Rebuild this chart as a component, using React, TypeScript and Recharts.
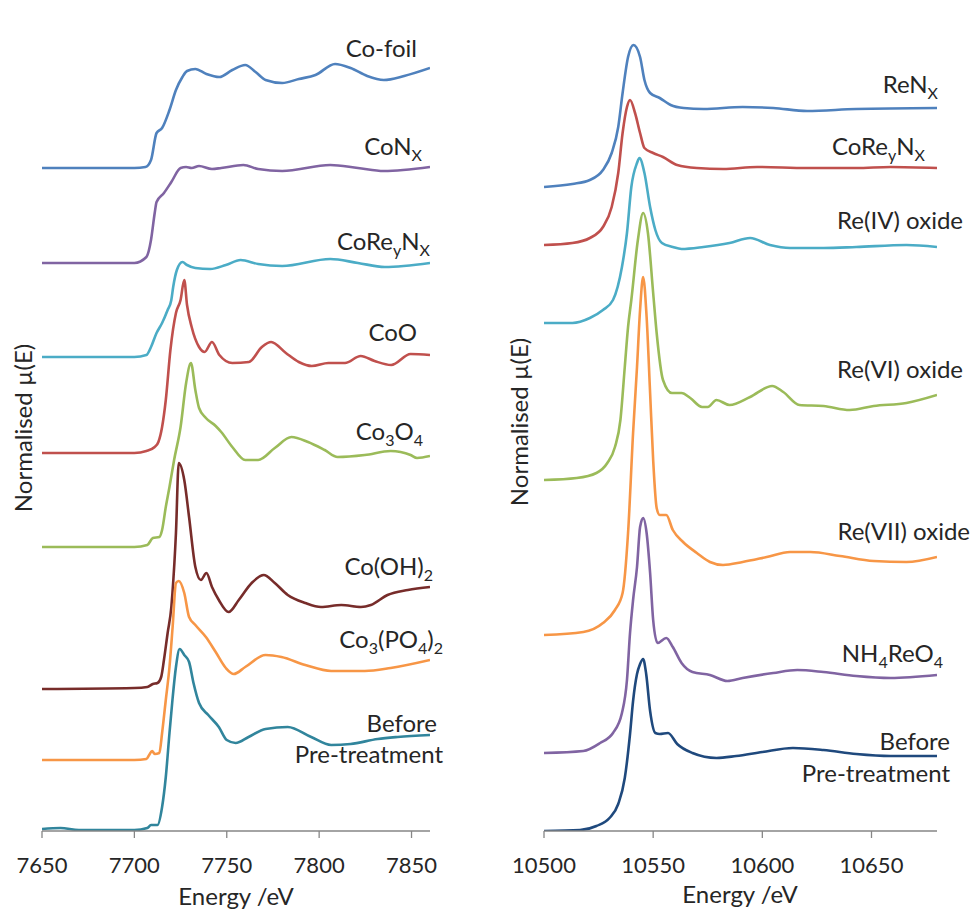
import React from 'react';
import { LineChart, Line, XAxis, YAxis } from 'recharts';

// ---------- tick labels ----------
const coTicks = [7650, 7700, 7750, 7800, 7850];
const reTicks = [10500, 10550, 10600, 10650];

// ---------- Co K-edge (left) : energy (eV), normalised mu(E), vertical offset ----------
const coFoilE = [7650, 7700, 7706, 7709, 7712, 7715, 7719, 7722.5, 7726, 7728.5, 7733, 7739, 7746, 7753, 7760, 7765.6, 7771, 7780, 7789, 7798, 7808.6, 7817, 7826, 7835, 7846, 7860];
const coFoilMu = [0, 0, 0.01, 0.08, 0.35, 0.4, 0.58, 0.78, 0.91, 0.97, 0.99, 0.94, 0.91, 0.98, 1.03, 0.96, 0.88, 0.85, 0.89, 0.93, 1.04, 1.0, 0.92, 0.88, 0.92, 1.0];
const coFoilOffset = 6.63;

const coNxE = [7650, 7700, 7706.5, 7709, 7711, 7712, 7716, 7720, 7725, 7728, 7731, 7735, 7742, 7747, 7759, 7767, 7780, 7806, 7821, 7835, 7860];
const coNxMu = [0, 0, 0.06, 0.23, 0.5, 0.61, 0.7, 0.81, 0.95, 0.96, 0.95, 0.97, 0.94, 0.95, 0.98, 0.94, 0.92, 0.98, 0.95, 0.92, 0.96];
const coNxOffset = 5.68;

const coReNxCoE = [7650, 7700, 7706.5, 7709, 7712, 7715, 7718, 7720, 7721, 7723, 7726, 7728.5, 7733, 7741, 7749.5, 7757.5, 7767, 7780, 7806, 7821, 7835.5, 7860];
const coReNxCoMu = [0, 0, 0.02, 0.1, 0.24, 0.34, 0.47, 0.57, 0.7, 0.87, 0.95, 0.92, 0.89, 0.88, 0.92, 0.97, 0.93, 0.91, 0.98, 0.94, 0.9, 0.94];
const coReNxCoOffset = 4.74;

const coOE = [7650, 7700, 7706.5, 7711, 7713, 7715, 7717, 7719.5, 7722.5, 7725, 7727, 7728.5, 7731, 7735, 7738, 7742, 7746, 7753, 7762, 7769, 7774, 7782, 7789, 7796, 7805, 7814, 7822.5, 7830, 7839, 7849.5, 7860];
const coOMu = [0, 0, 0.02, 0.06, 0.11, 0.26, 0.53, 1.03, 1.4, 1.53, 1.73, 1.48, 1.26, 1.06, 1.01, 1.11, 0.98, 0.9, 0.91, 1.06, 1.11, 1.0, 0.91, 0.87, 0.9, 0.9, 0.97, 0.92, 0.88, 0.99, 0.98];
const coOOffset = 3.78;

const co3o4E = [7650, 7700, 7707, 7710, 7713.5, 7715, 7717, 7719, 7721.5, 7725, 7728, 7730.6, 7733, 7735, 7738.7, 7744, 7747, 7753, 7760, 7767, 7776, 7785, 7794, 7803, 7810, 7824.7, 7838.7, 7849.5, 7853, 7860];
const co3o4Mu = [0, 0, 0.02, 0.09, 0.1, 0.17, 0.4, 0.6, 0.87, 1.2, 1.64, 1.84, 1.57, 1.39, 1.29, 1.21, 1.15, 1.0, 0.87, 0.87, 0.99, 1.1, 1.05, 0.97, 0.9, 0.92, 0.96, 0.92, 0.89, 0.91];
const co3o4Offset = 2.84;

const coOH2E = [7650, 7700, 7707, 7710, 7712.5, 7714.5, 7716, 7718, 7720, 7720.6, 7722.5, 7724, 7727, 7729.6, 7733, 7736, 7739, 7742, 7745.7, 7751, 7756.5, 7763.5, 7770, 7776, 7783, 7792.5, 7801, 7812, 7822.6, 7828, 7837, 7848, 7860];
const coOH2Mu = [0, 0.01, 0.02, 0.05, 0.06, 0.12, 0.29, 0.56, 0.82, 0.96, 1.56, 2.26, 2.09, 1.72, 1.22, 1.09, 1.16, 1.02, 0.89, 0.77, 0.89, 1.06, 1.14, 1.06, 0.94, 0.86, 0.82, 0.84, 0.82, 0.84, 0.94, 0.99, 1.02];
const coOH2Offset = 1.42;

const co3po42E = [7650, 7700, 7706.5, 7708, 7709.6, 7711, 7713.5, 7715, 7717, 7719, 7720.7, 7722.5, 7724, 7727, 7729.6, 7733, 7738.7, 7744, 7749.5, 7753.8, 7760, 7771, 7779.6, 7792.5, 7806.5, 7824.7, 7838.7, 7860];
const co3po42Mu = [0, 0, 0.01, 0.05, 0.09, 0.06, 0.07, 0.27, 0.6, 0.93, 1.33, 1.77, 1.79, 1.67, 1.43, 1.35, 1.23, 1.08, 0.92, 0.86, 0.93, 1.05, 1.03, 0.95, 0.89, 0.89, 0.92, 1.0];
const co3po42Offset = 0.71;

const coBeforeE = [7650, 7660, 7670, 7700, 7707, 7709, 7712.5, 7715, 7717, 7719, 7720.6, 7722.5, 7724.5, 7727, 7729.6, 7732, 7735, 7740, 7745.7, 7750, 7754.8, 7761.8, 7771, 7783, 7795.7, 7806.5, 7817, 7831.7, 7842.5, 7860];
const coBeforeMu = [0.01, 0.02, 0, 0, 0.02, 0.05, 0.05, 0.23, 0.53, 0.97, 1.3, 1.63, 1.81, 1.75, 1.68, 1.47, 1.27, 1.15, 1.03, 0.9, 0.87, 0.93, 1.01, 1.03, 0.93, 0.85, 0.86, 0.91, 0.93, 0.95];
const coBeforeOffset = 0.01;

// ---------- Re L3-edge (right) ----------
const reNxE = [10500, 10513, 10521, 10527, 10531, 10534, 10536, 10538.5, 10541, 10544, 10546, 10548.6, 10553, 10558, 10564, 10573, 10591, 10605, 10620.5, 10643, 10680];
const reNxMu = [0, 0.03, 0.07, 0.17, 0.34, 0.6, 0.94, 1.3, 1.42, 1.3, 1.07, 0.94, 0.89, 0.82, 0.79, 0.78, 0.8, 0.79, 0.76, 0.78, 0.79];
const reNxOffset = 6.44;

const coReNxReE = [10500, 10513, 10521, 10527, 10531, 10534, 10536, 10538, 10539.4, 10541.7, 10544, 10546, 10550, 10554.5, 10561, 10570, 10582, 10597.6, 10620.5, 10643, 10658.7, 10680];
const coReNxReMu = [0, 0.02, 0.07, 0.18, 0.38, 0.72, 1.12, 1.38, 1.45, 1.32, 1.12, 0.97, 0.92, 0.88, 0.8, 0.77, 0.76, 0.78, 0.77, 0.77, 0.78, 0.77];
const coReNxReOffset = 5.86;

const re4E = [10500, 10513, 10521, 10527, 10531.6, 10535.7, 10538, 10540, 10542.6, 10543.7, 10546, 10548.6, 10551, 10554, 10559, 10563, 10573, 10585, 10594.4, 10603.5, 10612.7, 10628, 10643, 10666, 10680];
const re4Mu = [0, 0, 0.05, 0.13, 0.23, 0.56, 0.9, 1.36, 1.6, 1.65, 1.5, 1.16, 0.93, 0.8, 0.76, 0.74, 0.76, 0.8, 0.85, 0.78, 0.75, 0.75, 0.76, 0.78, 0.76];
const re4Offset = 5.08;

const re6E = [10500, 10515, 10524, 10529, 10532.5, 10535, 10537, 10538.5, 10540, 10543, 10545.4, 10547.6, 10550, 10551.6, 10554.5, 10558.6, 10563, 10567, 10572.4, 10575, 10579, 10585, 10594.4, 10604.5, 10609.6, 10617, 10628, 10640, 10651, 10666, 10680];
const re6Mu = [0, 0.02, 0.07, 0.17, 0.33, 0.6, 1.13, 1.53, 1.8, 2.4, 2.67, 2.47, 1.87, 1.47, 1.0, 0.87, 0.87, 0.82, 0.73, 0.73, 0.8, 0.75, 0.83, 0.94, 0.88, 0.75, 0.74, 0.7, 0.74, 0.77, 0.85];
const re6Offset = 3.51;

const re7E = [10500, 10518, 10527, 10532.5, 10536, 10538.5, 10540.8, 10542.6, 10544, 10545.4, 10547, 10548.6, 10550, 10551.6, 10553, 10556, 10559, 10563.7, 10570, 10576, 10582, 10591, 10602, 10612.7, 10622, 10635.6, 10651, 10666, 10680];
const re7Mu = [0, 0.03, 0.12, 0.25, 0.42, 1.02, 2.02, 2.68, 3.25, 3.58, 3.18, 2.42, 1.75, 1.27, 1.2, 1.2, 1.05, 0.93, 0.82, 0.73, 0.7, 0.73, 0.78, 0.83, 0.83, 0.79, 0.74, 0.73, 0.78];
const re7Offset = 1.96;

const nh4E = [10500, 10518, 10525.7, 10531.6, 10535.7, 10538, 10539.4, 10540.8, 10542.6, 10544, 10545.4, 10547, 10548.6, 10550, 10552, 10556, 10559, 10563, 10568, 10576, 10584, 10591, 10605, 10616, 10628, 10643, 10658.7, 10680];
const nh4Mu = [0, 0.02, 0.1, 0.2, 0.4, 0.73, 1.2, 1.53, 1.86, 2.26, 2.35, 2.2, 1.8, 1.33, 1.1, 1.15, 1.06, 0.9, 0.81, 0.78, 0.72, 0.75, 0.8, 0.83, 0.81, 0.77, 0.75, 0.78];
const nh4Offset = 0.78;

const reBeforeE = [10500, 10516.5, 10524, 10530, 10534, 10537, 10539.4, 10540.8, 10542.6, 10544, 10545.4, 10546.8, 10548.6, 10551, 10553, 10556.8, 10561, 10568, 10579, 10588, 10600, 10614, 10628, 10643, 10658.7, 10680];
const reBeforeMu = [0, 0.01, 0.05, 0.13, 0.27, 0.53, 0.97, 1.3, 1.57, 1.67, 1.72, 1.57, 1.2, 0.98, 0.97, 0.98, 0.87, 0.78, 0.73, 0.75, 0.79, 0.83, 0.81, 0.77, 0.75, 0.75];
const reBeforeOffset = 0;

type Series = { key: string; e: number[]; mu: number[]; offset: number; color: string };

const build = (e: number[], mu: number[], offset: number) =>
  e.map((x, i) => ({ e: x, v: +(mu[i] + offset).toFixed(3) }));

const coSeries: Series[] = [
  { key: 'Co-foil', e: coFoilE, mu: coFoilMu, offset: coFoilOffset, color: '#4F81BD' },
  { key: 'CoNx', e: coNxE, mu: coNxMu, offset: coNxOffset, color: '#8064A2' },
  { key: 'CoReyNx', e: coReNxCoE, mu: coReNxCoMu, offset: coReNxCoOffset, color: '#4BACC6' },
  { key: 'CoO', e: coOE, mu: coOMu, offset: coOOffset, color: '#C0504D' },
  { key: 'Co3O4', e: co3o4E, mu: co3o4Mu, offset: co3o4Offset, color: '#9BBB59' },
  { key: 'Co(OH)2', e: coOH2E, mu: coOH2Mu, offset: coOH2Offset, color: '#772C2A' },
  { key: 'Co3(PO4)2', e: co3po42E, mu: co3po42Mu, offset: co3po42Offset, color: '#F79646' },
  { key: 'Before', e: coBeforeE, mu: coBeforeMu, offset: coBeforeOffset, color: '#31859C' },
];

const reSeries: Series[] = [
  { key: 'ReNx', e: reNxE, mu: reNxMu, offset: reNxOffset, color: '#4F81BD' },
  { key: 'CoReyNx', e: coReNxReE, mu: coReNxReMu, offset: coReNxReOffset, color: '#C0504D' },
  { key: 'Re(IV) oxide', e: re4E, mu: re4Mu, offset: re4Offset, color: '#4BACC6' },
  { key: 'Re(VI) oxide', e: re6E, mu: re6Mu, offset: re6Offset, color: '#9BBB59' },
  { key: 'Re(VII) oxide', e: re7E, mu: re7Mu, offset: re7Offset, color: '#F79646' },
  { key: 'NH4ReO4', e: nh4E, mu: nh4Mu, offset: nh4Offset, color: '#8064A2' },
  { key: 'Before', e: reBeforeE, mu: reBeforeMu, offset: reBeforeOffset, color: '#1F497D' },
];

const FONT = 'Lato, "Open Sans", sans-serif';
const TXT = '#262626';
const AXIS = '#868686';

type Part = [string, boolean];
const Formula = ({ x, y, parts }: { x: number; y: number; parts: Part[] }) => {
  let sub = false;
  return (
    <text x={x} y={y} textAnchor="end" fontFamily={FONT} fontSize={24} fill={TXT}>
      {parts.map(([t, s], i) => {
        const dy = s === sub ? 0 : s ? 6 : -6;
        sub = s;
        return (
          <tspan key={i} dy={dy} fontSize={s ? 16 : 24}>
            {t}
          </tspan>
        );
      })}
    </text>
  );
};

const Panel = ({
  series, domainX, ticks, yMax, left, width, mTop, mLeft, mRight,
}: {
  series: Series[]; domainX: [number, number]; ticks: number[]; yMax: number;
  left: number; width: number; mTop: number; mLeft: number; mRight: number;
}) => (
  <div style={{ position: 'absolute', left, top: 0 }}>
    <LineChart width={width} height={910} margin={{ top: mTop, right: mRight, bottom: 0, left: mLeft }}>
      <XAxis
        type="number"
        dataKey="e"
        domain={domainX}
        ticks={ticks}
        allowDataOverflow
        height={79}
        tickSize={7}
        tickMargin={19}
        stroke={AXIS}
        strokeWidth={1.3}
        tick={{ fill: TXT, fontSize: 22, fontFamily: FONT }}
      />
      <YAxis type="number" domain={[0, yMax]} width={0} tick={false} tickLine={false} stroke={AXIS} strokeWidth={1.3} allowDataOverflow />
      {series.map((s) => (
        <Line
          key={s.key}
          data={build(s.e, s.mu, s.offset)}
          dataKey="v"
          type="monotone"
          stroke={s.color}
          strokeWidth={2.6}
          dot={false}
          activeDot={false}
          isAnimationActive={false}
        />
      ))}
    </LineChart>
  </div>
);

export default function App() {
  return (
    <div style={{ position: 'fixed', left: 0, top: 0, width: 970, height: 910, background: '#fff', overflow: 'hidden' }}>
      <Panel series={coSeries} domainX={[7650, 7860]} ticks={coTicks} yMax={8.06} left={0} width={470} mTop={25} mLeft={42} mRight={40} />
      <Panel series={reSeries} domainX={[10500, 10680]} ticks={reTicks} yMax={8.19} left={500} width={470} mTop={12} mLeft={44} mRight={33} />
      <svg width={970} height={910} style={{ position: 'absolute', left: 0, top: 0, pointerEvents: 'none' }}>
        {/* left panel labels */}
        <Formula x={417} y={57} parts={[['Co-foil', false]]} />
        <Formula x={422} y={155} parts={[['CoN', false], ['X', true]]} />
        <Formula x={430} y={250} parts={[['CoRe', false], ['y', true], ['N', false], ['X', true]]} />
        <Formula x={417} y={341} parts={[['CoO', false]]} />
        <Formula x={423} y={440} parts={[['Co', false], ['3', true], ['O', false], ['4', true]]} />
        <Formula x={433} y={575} parts={[['Co(OH)', false], ['2', true]]} />
        <Formula x={443} y={648} parts={[['Co', false], ['3', true], ['(PO', false], ['4', true], [')', false], ['2', true]]} />
        <Formula x={437} y={732} parts={[['Before', false]]} />
        <Formula x={443} y={763} parts={[['Pre-treatment', false]]} />
        {/* right panel labels */}
        <Formula x={938} y={93} parts={[['ReN', false], ['X', true]]} />
        <Formula x={925} y={155} parts={[['CoRe', false], ['y', true], ['N', false], ['X', true]]} />
        <Formula x={963} y={229} parts={[['Re(IV) oxide', false]]} />
        <Formula x={963} y={378} parts={[['Re(VI) oxide', false]]} />
        <Formula x={970} y={540} parts={[['Re(VII) oxide', false]]} />
        <Formula x={943} y={662} parts={[['NH', false], ['4', true], ['ReO', false], ['4', true]]} />
        <Formula x={950} y={750} parts={[['Before', false]]} />
        <Formula x={950} y={782} parts={[['Pre-treatment', false]]} />
        {/* axis titles */}
        <text x={236} y={905} textAnchor="middle" fontFamily={FONT} fontSize={24} fill={TXT}>Energy /eV</text>
        <text x={740} y={903} textAnchor="middle" fontFamily={FONT} fontSize={24} fill={TXT}>Energy /eV</text>
        <text transform="translate(32,428) rotate(-90)" textAnchor="middle" fontFamily={FONT} fontSize={24} fill={TXT}>Normalised µ(E)</text>
        <text transform="translate(528,422) rotate(-90)" textAnchor="middle" fontFamily={FONT} fontSize={24} fill={TXT}>Normalised µ(E)</text>
      </svg>
    </div>
  );
}
